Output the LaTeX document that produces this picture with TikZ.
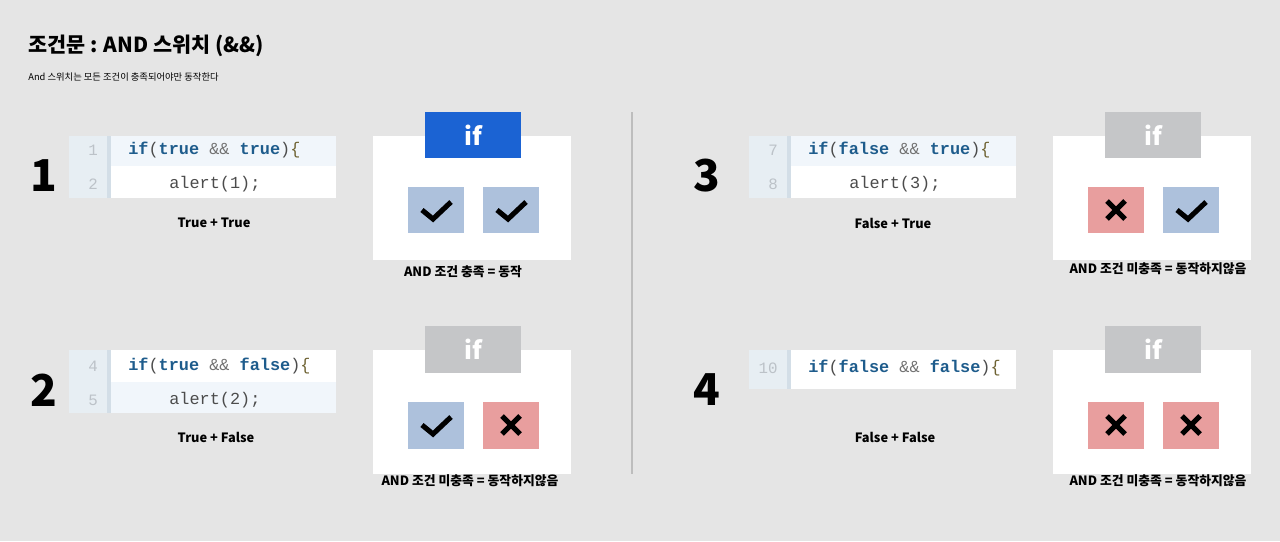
\documentclass[tikz,border=0pt]{standalone}
\usepackage{fontspec}
\setmainfont{Noto Sans CJK KR}
\setmonofont{Liberation Mono}
\usetikzlibrary{positioning}

\definecolor{bgcol}{HTML}{E5E5E5}
\definecolor{gutcol}{HTML}{E7EEF3}
\definecolor{sepcol}{HTML}{D3DEE7}
\definecolor{rowcol}{HTML}{F1F6FB}
\definecolor{kwcol}{HTML}{1E5C8C}
\definecolor{numcol}{HTML}{BCC2C8}
\definecolor{ifblue}{HTML}{1B63D3}
\definecolor{ifgray}{HTML}{C5C6C8}
\definecolor{okcol}{HTML}{ADC1DC}
\definecolor{nocol}{HTML}{E89E9E}
\definecolor{divcol}{HTML}{BDBDBD}
\definecolor{brccol}{HTML}{6E6232}

\tikzstyle{title}  = [anchor=west, inner sep=0, font=\bfseries\fontsize{11.8}{14}\selectfont]
\tikzstyle{sub}    = [anchor=west, inner sep=0, font=\fontsize{5.3}{6}\selectfont]
\tikzstyle{num}    = [inner sep=0, font=\bfseries\fontsize{25}{28}\selectfont]
\tikzstyle{lbl}    = [inner sep=0, font=\bfseries\fontsize{7.3}{9}\selectfont]
\tikzstyle{lno}    = [inner sep=0, text=numcol, font=\ttfamily\fontsize{9}{10}\selectfont]
\tikzstyle{code}   = [anchor=west, inner sep=0, text=black!70, font=\ttfamily\fontsize{9.6}{10}\selectfont]
\tikzstyle{panel}  = [fill=white, minimum width=3.96cm, minimum height=2.48cm, inner sep=0]
\tikzstyle{ifbox}  = [minimum width=1.92cm, minimum height=0.94cm, inner sep=0, text=white,
                      font=\bfseries\fontsize{14}{16}\selectfont]
\tikzstyle{ok}     = [fill=okcol, minimum width=1.12cm, minimum height=0.94cm, inner sep=0]
\tikzstyle{no}     = [fill=nocol, minimum width=1.12cm, minimum height=0.94cm, inner sep=0]
\tikzstyle{tick}   = [draw, line width=2.9pt, line join=miter]
\tikzstyle{cross}  = [draw, line width=2.9pt]

\newcommand{\kw}[1]{\textcolor{kwcol}{\bfseries #1}}
\newcommand{\amp}{\textcolor{black!55}{\&\&}}
\newcommand{\brc}{\textcolor{brccol}{\{}}

\begin{document}
\begin{tikzpicture}[x=0.02cm, y=-0.02cm]

% background
\fill [bgcol] (0,0) rectangle (1280,541);

% heading
\node [title] at ( 28, 46) (head) {조건문 : AND 스위치 (\&\&)};
\node [sub]   at ( 28, 77) (intro) {And 스위치는 모든 조건이 충족되어야만 동작한다};

% divider
\draw [divcol, line width=0.7pt] (632,112) -- (632,474);

% code blocks
\fill [gutcol] ( 69,136) rectangle (107,198);
\fill [sepcol] (107,136) rectangle (111,198);
\fill [rowcol] (111,136) rectangle (336,166);
\fill [white]  (111,166) rectangle (336,198);

\fill [gutcol] ( 69,350) rectangle (107,413);
\fill [sepcol] (107,350) rectangle (111,413);
\fill [white]  (111,350) rectangle (336,382);
\fill [rowcol] (111,382) rectangle (336,413);

\fill [gutcol] (749,136) rectangle (787,198);
\fill [sepcol] (787,136) rectangle (791,198);
\fill [rowcol] (791,136) rectangle (1016,166);
\fill [white]  (791,166) rectangle (1016,198);

\fill [gutcol] (749,350) rectangle (787,389);
\fill [sepcol] (787,350) rectangle (791,389);
\fill [white]  (791,350) rectangle (1016,389);

% line numbers
\node [lno] at ( 93,150) (n1)  {1};
\node [lno] at ( 93,184) (n2)  {2};
\node [lno] at ( 93,366) (n4)  {4};
\node [lno] at ( 93,400) (n5)  {5};
\node [lno] at (773,150) (n7)  {7};
\node [lno] at (773,184) (n8)  {8};
\node [lno] at (768,368) (n10) {10};

% code lines
\node [code] at (128,150) (c1) {\kw{if}(\kw{true} \amp{} \kw{true})\brc};
\node [code] at (169,184) (c2) {alert(1);};
\node [code] at (128,366) (c4) {\kw{if}(\kw{true} \amp{} \kw{false})\brc};
\node [code] at (169,400) (c5) {alert(2);};
\node [code] at (808,150) (c7) {\kw{if}(\kw{false} \amp{} \kw{true})\brc};
\node [code] at (849,184) (c8) {alert(3);};
\node [code] at (808,368) (c10) {\kw{if}(\kw{false} \amp{} \kw{false})\brc};

% case numbers
\node [num] at ( 44,176) (one)   {1};
\node [num] at ( 44,390) (two)   {2};
\node [num] at (707,176) (three) {3};
\node [num] at (707,390) (four)  {4};

% captions under code
\node [lbl] at (214,223) (tt) {True + True};
\node [lbl] at (216,437) (tf) {True + False};
\node [lbl] at (893,223) (ft) {False + True};
\node [lbl] at (895,437) (ff) {False + False};

% panels
\node [panel] at ( 472,198) (p1) {};
\node [panel] at ( 472,412) (p2) {};
\node [panel] at (1152,198) (p3) {};
\node [panel] at (1152,412) (p4) {};

\node [ifbox, fill=ifblue] at ( 473,135) (if1) {if};
\node [ifbox, fill=ifgray] at ( 473,349) (if2) {if};
\node [ifbox, fill=ifgray] at (1153,135) (if3) {if};
\node [ifbox, fill=ifgray] at (1153,349) (if4) {if};

\node [ok] at ( 436,210) (a1) {};
\node [ok] at ( 511,210) (b1) {};
\node [ok] at ( 436,425) (a2) {};
\node [no] at ( 511,425) (b2) {};
\node [no] at (1116,210) (a3) {};
\node [ok] at (1191,210) (b3) {};
\node [no] at (1116,425) (a4) {};
\node [no] at (1191,425) (b4) {};

% marks
\draw [tick] ([shift={(-14,0)}]a1.center) -- ++(11,9) -- ++(18,-17);
\draw [tick] ([shift={(-14,0)}]b1.center) -- ++(11,9) -- ++(18,-17);
\draw [tick] ([shift={(-14,0)}]a2.center) -- ++(11,9) -- ++(18,-17);
\draw [tick] ([shift={(-14,0)}]b3.center) -- ++(11,9) -- ++(18,-17);
\draw [cross] ([shift={(-9,-9)}]b2.center) -- ++(18,18) ++(0,-18) -- ++(-18,18);
\draw [cross] ([shift={(-9,-9)}]a3.center) -- ++(18,18) ++(0,-18) -- ++(-18,18);
\draw [cross] ([shift={(-9,-9)}]a4.center) -- ++(18,18) ++(0,-18) -- ++(-18,18);
\draw [cross] ([shift={(-9,-9)}]b4.center) -- ++(18,18) ++(0,-18) -- ++(-18,18);

% captions under panels
\node [lbl] at ( 463,272) (r1) {AND 조건 충족 = 동작};
\node [lbl] at ( 470,481) (r2) {AND 조건 미충족 = 동작하지않음};
\node [lbl] at (1158,269) (r3) {AND 조건 미충족 = 동작하지않음};
\node [lbl] at (1158,481) (r4) {AND 조건 미충족 = 동작하지않음};

\end{tikzpicture}
\end{document}
